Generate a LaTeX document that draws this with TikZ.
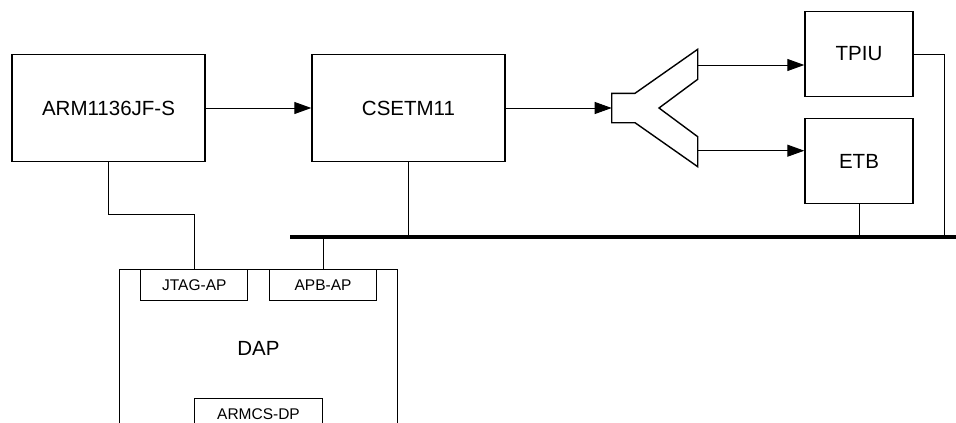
\documentclass[tikz,border=0pt]{standalone}
\usepackage{fontspec}
\setmainfont{Liberation Sans}
\usetikzlibrary{arrows.meta, positioning, calc}

\begin{document}
\begin{tikzpicture}[
  x=1pt, y=-1pt,
  blk/.style={rectangle, draw, line width=1.4pt, inner sep=0pt, align=center, font=\fontsize{20.5}{24}\selectfont},
  subblk/.style={rectangle, draw, line width=1pt, inner sep=0pt, minimum width=107pt, minimum height=31pt, font=\fontsize{15.5}{18}\selectfont},
  arr/.style={-{Triangle[length=17pt, width=12pt]}, line width=1pt},
  wire/.style={line width=1pt},
  bus/.style={line width=4pt},
]
\useasboundingbox (0,0) rectangle (956,423);

\node[blk, minimum width=193pt, minimum height=107pt] (arm) at (108.5,108) {ARM1136JF-S};
\node[blk, minimum width=193pt, minimum height=107pt] (csetm) at (408.5,108) {CSETM11};
\node[blk, minimum width=108pt, minimum height=85pt] (tpiu) at (859,54) {TPIU};
\node[blk, minimum width=108pt, minimum height=85pt] (etb) at (859,161) {ETB};
\node[blk, minimum width=278pt, minimum height=157pt] (dap) at (258.5,348) {DAP};
\node[subblk, anchor=north] (jtag) at (194.3,269.3) {JTAG-AP};
\node[subblk, anchor=north] (apb) at (323,269.3) {APB-AP};
\node[subblk, minimum width=128pt, anchor=north] (dp) at (258.5,397.7) {ARMCS-DP};

\draw[line width=1.4pt, line join=miter]
  (611.7,93.3) -- (635,93.3) -- (697.7,49.3) -- (697.7,79.3) -- (659,108)
  -- (697.7,136.7) -- (697.7,166.7) -- (635,122.7) -- (611.7,122.7) -- cycle;
\coordinate (spl-in) at (611.7,108);
\coordinate (spl-top) at (697.7,65);
\coordinate (spl-bot) at (697.7,150.7);

\coordinate (bus-w) at (290,236.7);
\coordinate (bus-e) at (956,236.7);
\coordinate (tap) at (944,236.7);
\draw[bus] (bus-w) -- (bus-e);

\draw[arr] (arm) -- (csetm);
\draw[arr] (csetm.east) -- (spl-in);
\draw[arr] (spl-top) -- (spl-top -| tpiu.west);
\draw[arr] (spl-bot) -- (spl-bot -| etb.west);

\draw[wire] (arm.south) -- ++(0,52.5) -| (jtag.north);
\draw[wire] (csetm.south) -- (csetm.south |- bus-w);
\draw[wire] (apb.north) -- (apb.north |- bus-w);
\draw[wire] (etb.south) -- (etb.south |- bus-w);
\draw[wire] (tpiu.east) -| (tap);
\end{tikzpicture}
\end{document}
